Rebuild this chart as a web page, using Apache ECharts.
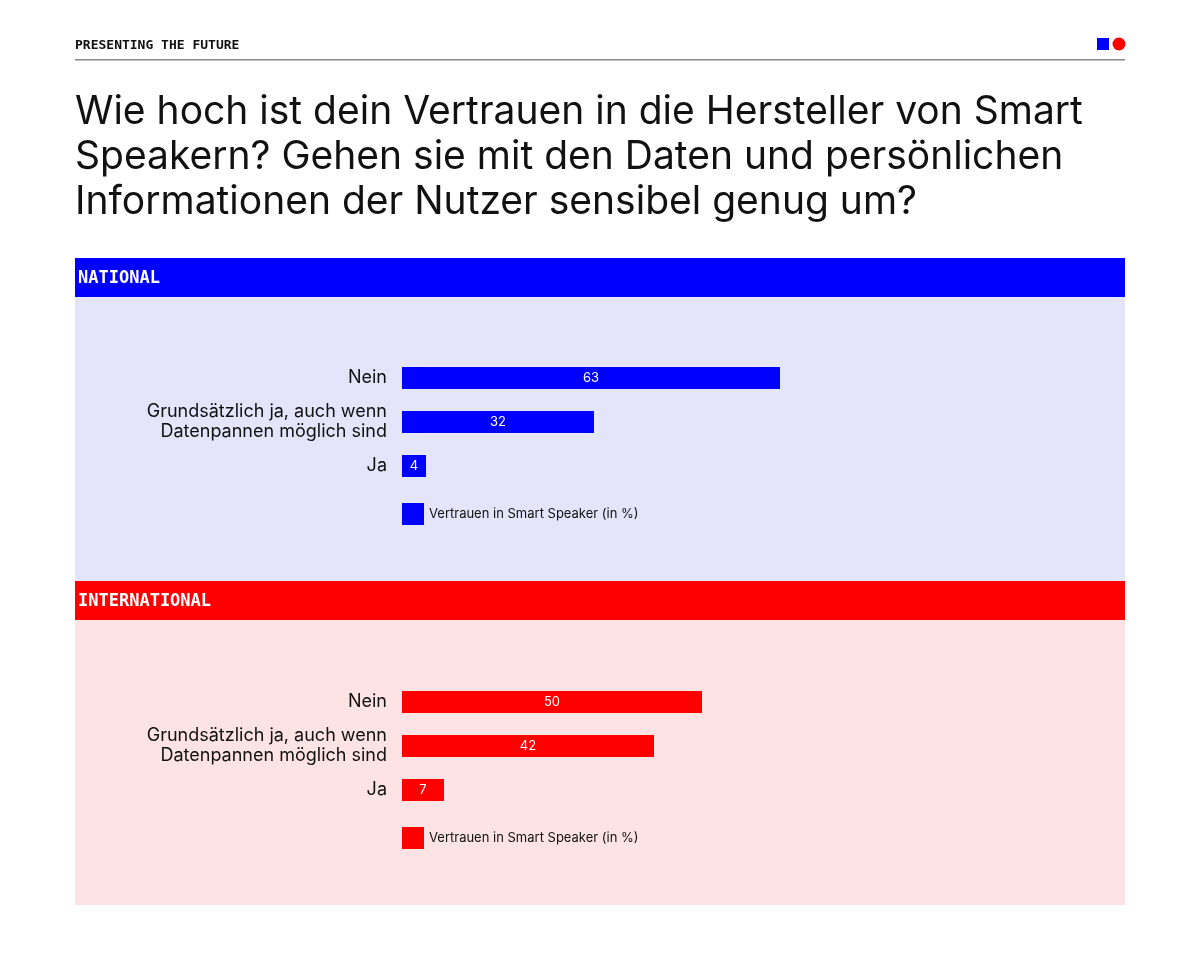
<!DOCTYPE html>
<html>
<head>
<meta charset="utf-8">
<script src="https://cdn.jsdelivr.net/npm/echarts@6/dist/echarts.min.js"></script>
<style>
  html, body { margin: 0; padding: 0; background: #fff; }
  #main { width: 1200px; height: 975px; }
</style>
</head>
<body>
<div id="main"></div>
<script>
// Daten
const categories = ['Nein', 'Grundsätzlich ja, auch wenn\nDatenpannen möglich sind', 'Ja'];
const nationalValues = [63, 32, 4];
const internationalValues = [50, 42, 7];
const seriesName = 'Vertrauen in Smart Speaker (in %)';

const BLUE = '#0000ff';
const RED = '#ff0000';
const chart = echarts.init(document.getElementById('main'));

function yAxis(idx) {
  return {
    type: 'category', gridIndex: idx, inverse: true,
    data: categories,
    axisLine: { show: false }, axisTick: { show: false },
    axisLabel: { color: '#111', fontSize: 18, fontFamily: 'Inter', lineHeight: 20, margin: 15 }
  };
}
function xAxis(idx) {
  return { type: 'value', gridIndex: idx, min: 0, max: 100, show: false };
}
function bars(idx, values, color) {
  return {
    type: 'bar', name: seriesName, xAxisIndex: idx, yAxisIndex: idx,
    data: values, barWidth: 22, itemStyle: { color: color },
    label: { show: true, position: 'inside', color: '#fff', fontSize: 13, fontFamily: 'Inter' }
  };
}
function legend(top, color) {
  return {
    left: 397, top: top, itemWidth: 22, itemHeight: 22, itemGap: 8,
    selectedMode: false,
    textStyle: { fontSize: 13, fontFamily: 'Inter', color: '#111' },
    data: [{ name: seriesName, icon: 'rect', itemStyle: { color: color } }]
  };
}
const mono = 'bold 17px "DejaVu Sans Mono", "Liberation Mono", monospace';

chart.setOption({
  animation: false,
  grid: [
    { left: 402, right: 198, top: 356, height: 132 },
    { left: 402, right: 198, top: 680, height: 132 }
  ],
  xAxis: [xAxis(0), xAxis(1)],
  yAxis: [yAxis(0), yAxis(1)],
  legend: [legend(498, BLUE), legend(822, RED)],
  series: [bars(0, nationalValues, BLUE), bars(1, internationalValues, RED)],
  graphic: [
    { type: 'text', left: 75, top: 39, style: { text: 'PRESENTING THE FUTURE', font: 'bold 13px "DejaVu Sans Mono", monospace', fill: '#111' } },
    { type: 'rect', shape: { x: 75, y: 59, width: 1050, height: 1.5 }, style: { fill: '#888' } },
    { type: 'rect', shape: { x: 1097, y: 38, width: 12, height: 12 }, style: { fill: BLUE } },
    { type: 'circle', shape: { cx: 1119, cy: 44, r: 6.5 }, style: { fill: RED } },
    { type: 'text', left: 75, top: 90, style: {
      text: 'Wie hoch ist dein Vertrauen in die Hersteller von Smart\nSpeakern? Gehen sie mit den Daten und persönlichen\nInformationen der Nutzer sensibel genug um?',
      font: '39px Inter', lineHeight: 45, fill: '#111' } },
    { type: 'rect', z: -1, shape: { x: 75, y: 258, width: 1050, height: 39 }, style: { fill: BLUE } },
    { type: 'rect', z: -1, shape: { x: 75, y: 297, width: 1050, height: 284 }, style: { fill: '#e4e4fb' } },
    { type: 'text', left: 78, top: 270, style: { text: 'NATIONAL', font: mono, fill: '#fff' } },
    { type: 'rect', z: -1, shape: { x: 75, y: 581, width: 1050, height: 39 }, style: { fill: RED } },
    { type: 'rect', z: -1, shape: { x: 75, y: 620, width: 1050, height: 285 }, style: { fill: '#fde3e3' } },
    { type: 'text', left: 78, top: 593, style: { text: 'INTERNATIONAL', font: mono, fill: '#fff' } }
  ]
});
</script>
</body>
</html>
